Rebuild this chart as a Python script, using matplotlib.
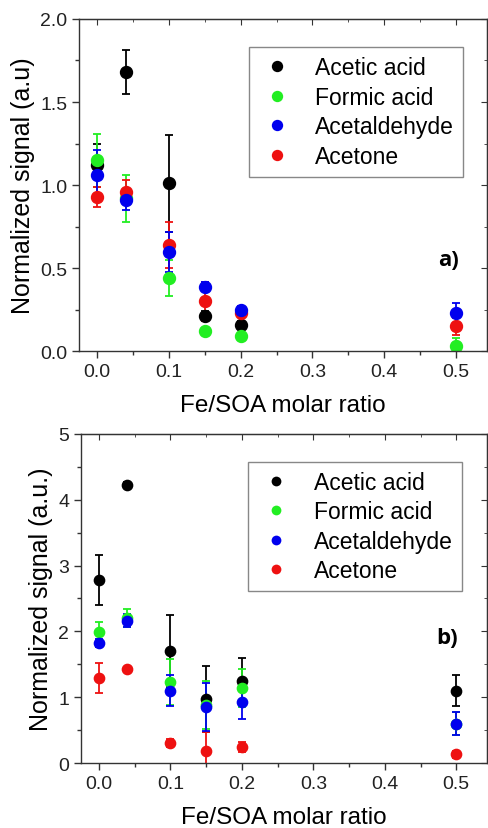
import matplotlib
matplotlib.use("Agg")
import matplotlib.pyplot as plt
import matplotlib.ticker as ticker
from matplotlib.lines import Line2D

plt.rcParams["font.family"] = ["Liberation Sans", "DejaVu Sans"]

RATIO = [0.0, 0.04, 0.1, 0.15, 0.2, 0.5]
NAMES = ["Acetic acid", "Formic acid", "Acetaldehyde", "Acetone"]
COLORS = {"Acetic acid": "black", "Formic acid": "#22ee22",
          "Acetaldehyde": "#0000ee", "Acetone": "#ee1111"}
# drawing order (blue on top), legend order is NAMES
DRAW_ORDER = ["Acetic acid", "Formic acid", "Acetone", "Acetaldehyde"]

# panel a) - no acetic acid point at 0.5
A_VALS = {
    "Acetic acid": [1.12, 1.68, 1.01, 0.21, 0.16, None],
    "Formic acid": [1.15, 0.92, 0.44, 0.12, 0.09, 0.03],
    "Acetaldehyde": [1.06, 0.91, 0.60, 0.39, 0.25, 0.23],
    "Acetone": [0.93, 0.96, 0.64, 0.30, 0.23, 0.15],
}
A_ERRS = {
    "Acetic acid": [0.13, 0.13, 0.29, 0.03, 0.02, None],
    "Formic acid": [0.16, 0.14, 0.11, 0.02, 0.02, 0.05],
    "Acetaldehyde": [0.15, 0.06, 0.12, 0.03, 0.02, 0.06],
    "Acetone": [0.06, 0.07, 0.14, 0.12, 0.02, 0.05],
}

# panel b)
B_VALS = {
    "Acetic acid": [2.78, 4.23, 1.70, 0.97, 1.24, 1.10],
    "Formic acid": [1.99, 2.20, 1.23, 0.88, 1.14, 0.60],
    "Acetaldehyde": [1.82, 2.16, 1.10, 0.85, 0.92, 0.60],
    "Acetone": [1.29, 1.43, 0.30, 0.18, 0.24, 0.13],
}
B_ERRS = {
    "Acetic acid": [0.38, 0.04, 0.55, 0.50, 0.36, 0.24],
    "Formic acid": [0.15, 0.14, 0.35, 0.36, 0.29, 0.17],
    "Acetaldehyde": [0.06, 0.10, 0.24, 0.36, 0.25, 0.17],
    "Acetone": [0.23, 0.03, 0.06, 0.29, 0.08, 0.05],
}

EDGE = "#333333"


def draw_panel(ax, vals, errs, ms, ylim, ymajor, yminor, ylabel, tag, tag_xy,
               leg_anchor):
    for name in DRAW_ORDER:
        xs, ys, es = [], [], []
        for x, v, e in zip(RATIO, vals[name], errs[name]):
            if v is None:
                continue
            xs.append(x)
            ys.append(v)
            es.append(e)
        ax.errorbar(xs, ys, yerr=es, fmt="o", color=COLORS[name],
                    mec=COLORS[name], ms=ms, elinewidth=1.3, capsize=3.2,
                    capthick=1.3)

    ax.set_xlim(-0.025, 0.543)
    ax.set_ylim(*ylim)
    ax.xaxis.set_major_locator(ticker.MultipleLocator(0.1))
    ax.xaxis.set_minor_locator(ticker.MultipleLocator(0.05))
    ax.yaxis.set_major_locator(ticker.MultipleLocator(ymajor))
    ax.yaxis.set_minor_locator(ticker.MultipleLocator(yminor))
    ax.tick_params(which="both", direction="out", top=False, right=False,
                   color=EDGE, labelsize=14, labelcolor="#222222")
    ax.tick_params(which="major", length=5, width=1)
    ax.tick_params(which="minor", length=3, width=1)
    for sp in ax.spines.values():
        sp.set_color(EDGE)
        sp.set_linewidth(1)

    # inward ticks on the top and right sides
    top = ax.secondary_xaxis("top")
    top.xaxis.set_major_locator(ticker.MultipleLocator(0.1))
    top.xaxis.set_minor_locator(ticker.MultipleLocator(0.05))
    top.tick_params(which="both", direction="in", labeltop=False, color=EDGE)
    top.tick_params(which="major", length=4)
    top.tick_params(which="minor", length=2.5)
    top.spines["top"].set_color(EDGE)
    right = ax.secondary_yaxis("right")
    right.yaxis.set_major_locator(ticker.MultipleLocator(ymajor))
    right.yaxis.set_minor_locator(ticker.MultipleLocator(yminor))
    right.tick_params(which="both", direction="in", labelright=False,
                      color=EDGE)
    right.tick_params(which="major", length=4)
    right.tick_params(which="minor", length=2.5)
    right.spines["right"].set_color(EDGE)

    ax.set_xlabel("Fe/SOA molar ratio", fontsize=17.5, labelpad=10)
    ax.set_ylabel(ylabel, fontsize=18, labelpad=4)

    handles = [Line2D([], [], ls="none", marker="o", ms=ms * 0.95,
                      mew=0, color=COLORS[n]) for n in NAMES]
    leg = ax.legend(handles, NAMES, loc="upper right",
                    bbox_to_anchor=leg_anchor, fontsize=16.5,
                    fancybox=False, framealpha=1, edgecolor="#888888",
                    handlelength=1.6, handletextpad=0.85, borderpad=0.4,
                    labelspacing=0.28, borderaxespad=0)
    leg.get_frame().set_linewidth(1)

    ax.text(tag_xy[0], tag_xy[1], tag, fontsize=16, fontweight="bold",
            ha="center", va="center", family=["Open Sans", "DejaVu Sans"])


fig = plt.figure(figsize=(4.88, 8.29), dpi=100)
ax_a = fig.add_axes([0.162, 0.575, 0.836, 0.401])
ax_b = fig.add_axes([0.166, 0.0784, 0.832, 0.397])

draw_panel(ax_a, A_VALS, A_ERRS, 8.6, (0, 2.0), 0.5, 0.25,
           "Normalized signal (a.u)", "a)", (0.49, 0.55), (0.94, 0.915))
ax_a.yaxis.set_major_formatter(ticker.FormatStrFormatter("%.1f"))
draw_panel(ax_b, B_VALS, B_ERRS, 7.4, (0, 5), 1, 0.5,
           "Normalized signal (a.u.)", "b)", (0.487, 1.91), (0.938, 0.915))

fig.savefig("out.png", dpi=100)
